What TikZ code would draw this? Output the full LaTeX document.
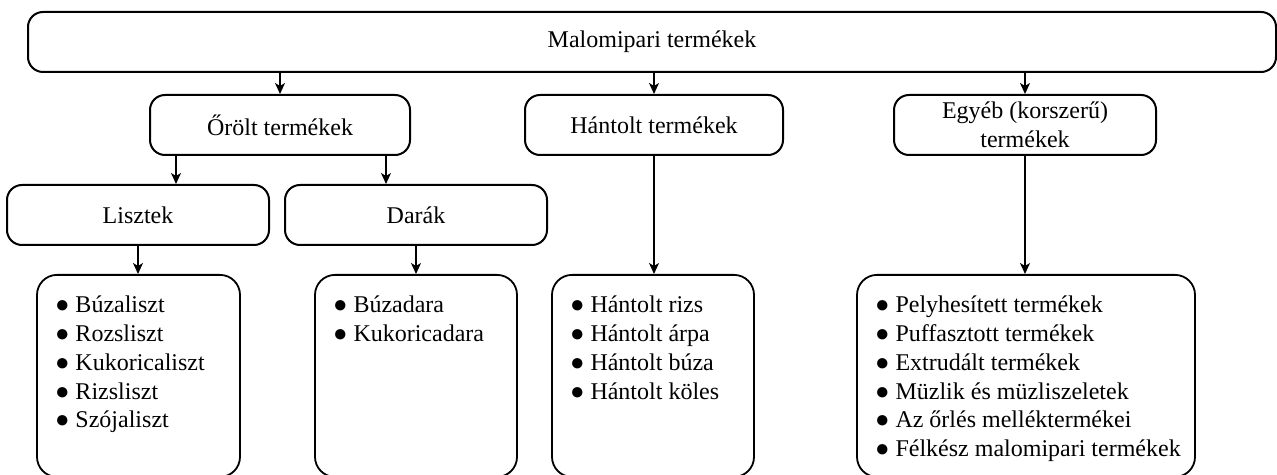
\documentclass[tikz,border=0pt]{standalone}
\usepackage{fontspec}
\setmainfont{Liberation Serif}
\usetikzlibrary{arrows.meta,positioning,calc}
\tikzset{
  every node/.style = {font=\fontsize{12}{14.35}\selectfont},
  doboz/.style      = {draw=black, fill=white, rounded corners=7.5pt,
                       minimum height=30pt, inner sep=2pt, align=center,
                       line width=1pt},
  lista/.style      = {draw=black, fill=white, rounded corners=10pt,
                       inner xsep=9pt, inner ysep=9pt, anchor=north,
                       line width=0.9pt},
  nyil/.style       = {-{Stealth[length=5.5pt,width=5pt,inset=1.5pt]},
                       draw=black, line width=0.7pt},
}
% egy felsorolasi sor, a dobozban nem torhet
\newcommand{\pont}[1]{\mbox{\strut●\ #1}\par}
\newcommand{\tetelek}[2]{\parbox[t][83pt][t]{#1}{#2}}

\begin{document}
\begin{tikzpicture}[x=1pt,y=1pt]

\useasboundingbox[fill=white] (0,0) rectangle (638.5,-237.5);
\clip (0,0) rectangle (638.5,-237.5);

% =============================================================================
% Felso szintek
% =============================================================================
\node[doboz, minimum width=624pt] (malom) at (326,-21) {Malomipari termékek};

\node[doboz, minimum width=130pt] (orolt)   at (140,-62.5)   {Őrölt termékek};
\node[doboz, minimum width=129pt] (hantolt) at (327,-62.5)   {Hántolt termékek};
\node[doboz, minimum width=131pt] (egyeb)   at (512.5,-62.5) {Egyéb (korszerű)\\termékek};

\node[doboz, minimum width=131pt] (liszt) at (69,-107.5)  {Lisztek};
\node[doboz, minimum width=131pt] (dara)  at (208,-107.5) {Darák};

% =============================================================================
% Termeklistak
% =============================================================================
\node[lista] (l1) at (69.25,-137) {\tetelek{83.5pt}{%
  \pont{Búzaliszt}\pont{Rozsliszt}\pont{Kukoricaliszt}\pont{Rizsliszt}\pont{Szójaliszt}}};
\node[lista] (l2) at (208,-137) {\tetelek{83pt}{%
  \pont{Búzadara}\pont{Kukoricadara}}};
\node[lista] (l3) at (326.5,-137) {\tetelek{83pt}{%
  \pont{Hántolt rizs}\pont{Hántolt árpa}\pont{Hántolt búza}\pont{Hántolt köles}}};
\node[lista] (l4) at (513,-137) {\tetelek{151pt}{%
  \pont{Pelyhesített termékek}\pont{Puffasztott termékek}\pont{Extrudált termékek}%
  \pont{Müzlik és müzliszeletek}\pont{Az őrlés melléktermékei}\pont{Félkész malomipari termékek}}};

% =============================================================================
% Nyilak
% =============================================================================
\foreach \a in {orolt,hantolt,egyeb} \draw[nyil] (malom.south -| \a.north) -- (\a.north);

\coordinate (o1) at ([xshift=13.5pt]orolt.south west);
\coordinate (o2) at ([xshift=-12.5pt]orolt.south east);
\draw[nyil] (o1) -- (o1 |- liszt.north);
\draw[nyil] (o2) -- (o2 |- dara.north);

\foreach \a/\b in {liszt/l1,dara/l2,hantolt/l3,egyeb/l4}
  \draw[nyil] (\a.south) -- (\a.south |- \b.north);

\end{tikzpicture}
\end{document}
